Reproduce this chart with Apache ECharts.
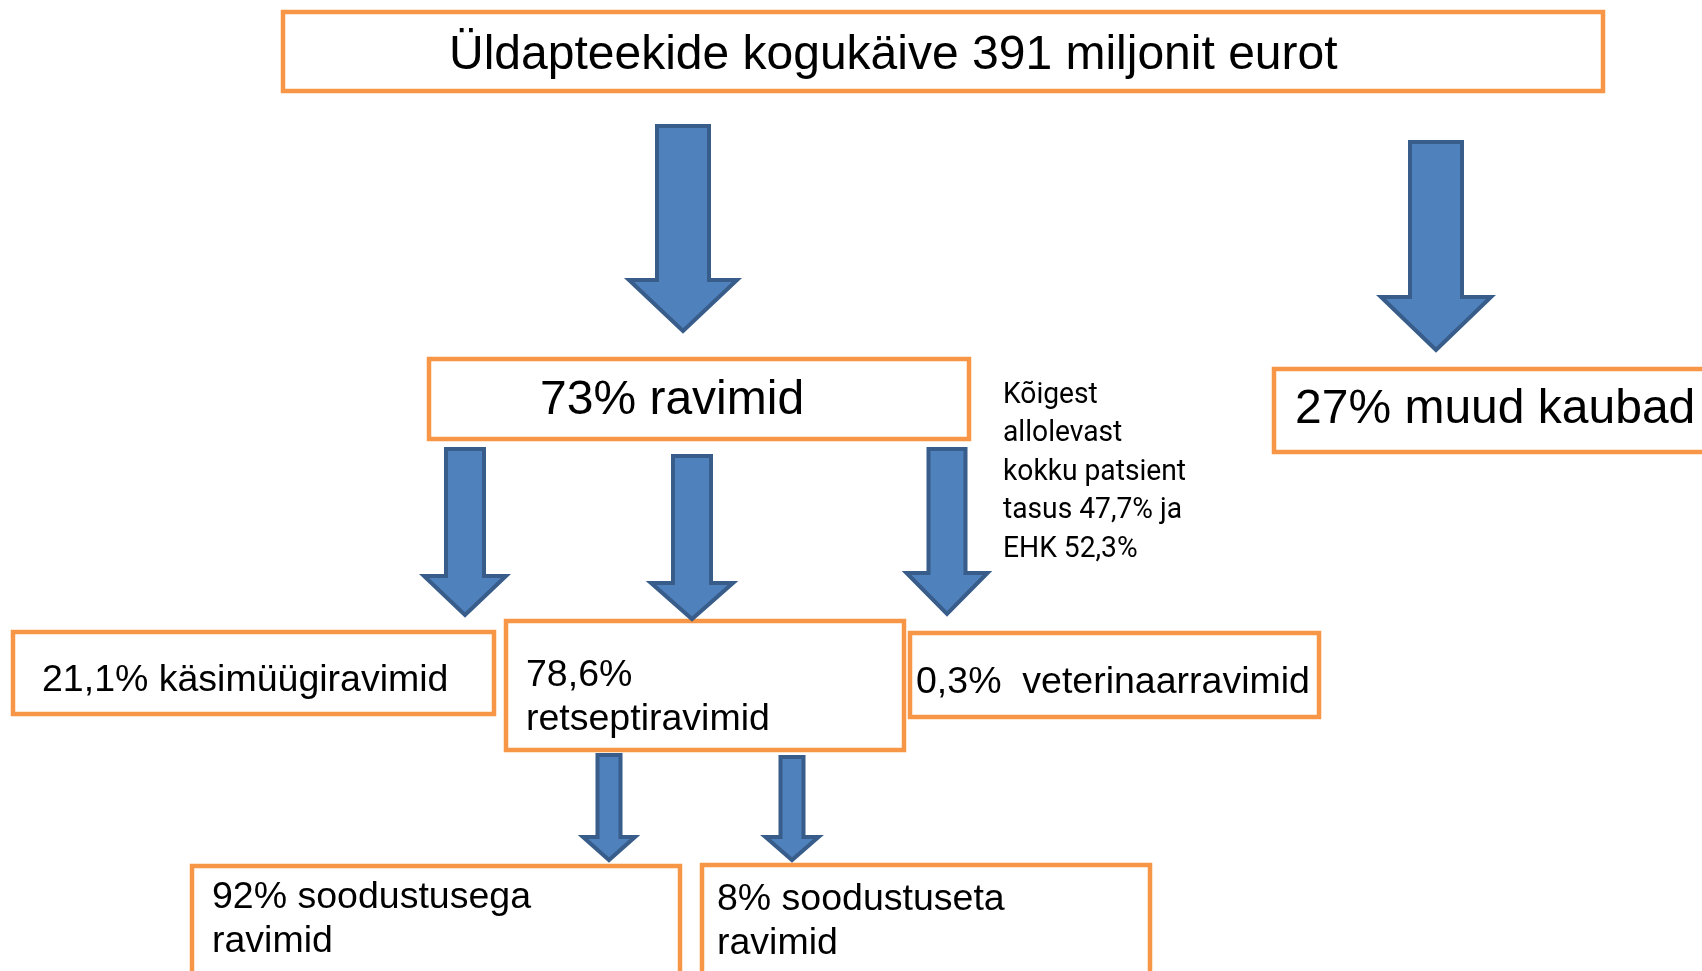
<!DOCTYPE html>
<html>
<head>
<meta charset="utf-8">
<script src="https://cdn.jsdelivr.net/npm/echarts@6/dist/echarts.min.js"></script>
<style>
  html, body { margin: 0; padding: 0; background: #fff; }
  #main { width: 1702px; height: 971px; }
</style>
</head>
<body>
<div id="main"></div>
<script>
// box texts, one entry per box ('\n' = new line)
const boxTexts = [
  'Üldapteekide kogukäive 391 miljonit eurot',
  '73% ravimid',
  '27% muud kaubad',
  '21,1% käsimüügiravimid',
  '78,6%\nretseptiravimid',
  '0,3%  veterinaarravimid',
  '92% soodustusega\nravimid',
  '8% soodustuseta\nravimid'
]
// box corners in page units [x0, y0, x1, y1]
const boxRects = [
  [283, 12, 1603, 91],
  [429, 359, 969, 439],
  [1274, 369, 1712, 452],
  [13, 632, 494, 714],
  [506, 621, 904, 750],
  [910, 633, 1319, 717],
  [192, 866, 680, 990],
  [702, 865, 1150, 990]
]
// where the first text line of each box starts [x, middle y]
const textAnchors = [
  [449, 55.5], [540, 401], [1295, 409.5], [42, 680.5],
  [526, 675.5], [916, 682.5], [212, 898], [717, 900]
]
const textSizes = [48, 48, 48, 37.5, 37.5, 37.5, 37.5, 37.5]

// side note
const noteLines = ['Kõigest', 'allolevast', 'kokku patsient', 'tasus 47,7% ja', 'EHK 52,3%']
const noteAnchor = [1003, 395]

// arrows [centre x, top y, tip y, shaft width, head width, head length]
const arrows = [
  [683, 126, 331, 52, 108, 51],
  [1436, 142, 350, 52, 110, 53],
  [465, 449, 615, 38, 82, 39],
  [692, 456, 619, 38, 82, 36],
  [947, 449, 614, 37, 81, 41],
  [609, 755, 860, 23, 52, 23],
  [792, 757, 860, 23, 53, 23]
]

const chart = echarts.init(document.getElementById('main'))

chart.setOption({
  animation: false,
  grid: { left: 0, right: 0, top: 0, bottom: 0 },
  xAxis: { type: 'value', min: 0, max: 1702, show: false },
  yAxis: { type: 'value', min: 0, max: 971, inverse: true, show: false },
  series: [
    {
      type: 'custom',
      data: boxRects,
      renderItem(params, api) {
        const a = api.coord([api.value(0), api.value(1)])
        const b = api.coord([api.value(2), api.value(3)])
        return {
          type: 'rect',
          shape: { x: a[0], y: a[1], width: b[0] - a[0], height: b[1] - a[1] },
          style: { fill: '#fff', stroke: '#F79646', lineWidth: 4.5 }
        }
      }
    },
    {
      type: 'custom',
      data: arrows,
      z: 3,
      renderItem(params, api) {
        const cx = api.value(0)
        const top = api.value(1)
        const tip = api.value(2)
        const sw = api.value(3) / 2
        const hw = api.value(4) / 2
        const base = tip - api.value(5)
        const pts = [
          [cx - sw, top], [cx + sw, top], [cx + sw, base], [cx + hw, base],
          [cx, tip], [cx - hw, base], [cx - sw, base]
        ].map(p => api.coord(p))
        return {
          type: 'polygon',
          shape: { points: pts },
          style: { fill: '#4F81BD', stroke: '#385D8A', lineWidth: 4, lineJoin: 'miter' }
        }
      }
    },
    {
      type: 'custom',
      data: textAnchors.map((p, i) => [p[0], p[1], i]),
      z: 4,
      renderItem(params, api) {
        const i = api.value(2)
        const size = textSizes[i]
        const lines = boxTexts[i].split('\n')
        return {
          type: 'group',
          children: lines.map((t, k) => {
            const p = api.coord([api.value(0), api.value(1) + k * 44])
            return {
              type: 'text',
              x: p[0],
              y: p[1],
              style: {
                text: t,
                fill: '#000',
                fontSize: size,
                fontFamily: 'Liberation Sans, Arial, sans-serif',
                align: 'left',
                verticalAlign: 'middle'
              }
            }
          })
        }
      }
    },
    {
      type: 'custom',
      data: noteLines.map((t, k) => [noteAnchor[0], noteAnchor[1] + k * 38.6, k]),
      z: 4,
      renderItem(params, api) {
        const p = api.coord([api.value(0), api.value(1)])
        return {
          type: 'text',
          x: p[0],
          y: p[1],
          scaleX: 0.94,
          style: {
            text: noteLines[api.value(2)],
            fill: '#000',
            fontSize: 30,
            fontFamily: 'Roboto, sans-serif',
            align: 'left',
            verticalAlign: 'middle'
          }
        }
      }
    }
  ]
})
</script>
</body>
</html>
